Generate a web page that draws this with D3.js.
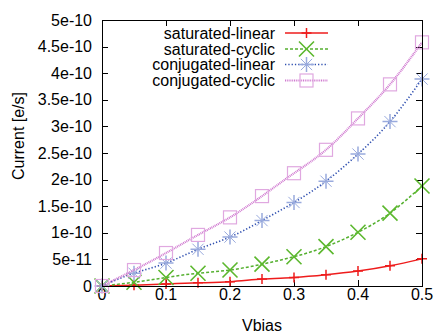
<!DOCTYPE html>
<html>
<head>
<meta charset="utf-8">
<script src="https://cdn.jsdelivr.net/npm/d3@7"></script>
<style>
body { margin: 0; background: #fff; }
text { font-family: "Liberation Sans", Arial, sans-serif; font-size: 16px; fill: #000; }
</style>
</head>
<body>
<div id="canvas"></div>
<script>
"use strict";

let svgWidth = 435;
let svgHeight = 333;

let margin = { top: 20, right: 13, bottom: 47, left: 102 };

// ---- data ----
let vbias = [0, 0.05, 0.1, 0.15, 0.2, 0.25, 0.3, 0.35, 0.4, 0.45, 0.5];
let saturatedLinear = [0, 1.5e-12, 3.8e-12, 6e-12, 8e-12, 1.3e-11, 1.6e-11, 2.1e-11, 2.8e-11, 3.8e-11, 5.1e-11];
let saturatedCyclic = [0, 7e-12, 1.6e-11, 2.4e-11, 3.0e-11, 4.1e-11, 5.5e-11, 7.4e-11, 1.01e-10, 1.37e-10, 1.88e-10];
let conjugatedLinear = [0, 2.4e-11, 4.3e-11, 6.9e-11, 9.2e-11, 1.23e-10, 1.57e-10, 1.97e-10, 2.48e-10, 3.09e-10, 3.89e-10];
let conjugatedCyclic = [0, 3.0e-11, 6.2e-11, 9.6e-11, 1.29e-10, 1.69e-10, 2.12e-10, 2.56e-10, 3.15e-10, 3.79e-10, 4.58e-10];
let seriesNames = ["saturated-linear", "saturated-cyclic", "conjugated-linear", "conjugated-cyclic"];
let xTicks = [0, 0.1, 0.2, 0.3, 0.4, 0.5];
let yTicks = [0, 5e-11, 1e-10, 1.5e-10, 2e-10, 2.5e-10, 3e-10, 3.5e-10, 4e-10, 4.5e-10, 5e-10];
let yTickLabels = ["0", "5e-11", "1e-10", "1.5e-10", "2e-10", "2.5e-10", "3e-10", "3.5e-10", "4e-10", "4.5e-10", "5e-10"];

let styles = [
    { line: "#ee1c1c", width: 1.5, dash: null, marker: "plus", mcolor: "#ee1c1c", msize: 5 },
    { line: "#55b030", width: 1.5, dash: "3,2", marker: "cross", mcolor: "#5cb82e", msize: 7.5 },
    { line: "#3050b0", width: 1.6, dash: "1.3,2", marker: "star", mcolor: "#99aadd", msize: 7.5 },
    { line: "#d07ad0", width: 2.2, dash: "1,0.8", marker: "square", mcolor: "#e0a8e0", msize: 6.5 }
];

let seriesValues = [saturatedLinear, saturatedCyclic, conjugatedLinear, conjugatedCyclic];

let svg = d3.select("#canvas")
    .append("svg")
    .attr("width", svgWidth)
    .attr("height", svgHeight);

let xScale = d3.scaleLinear()
    .domain([0, 0.5])
    .range([margin.left, svgWidth - margin.right]);

let yScale = d3.scaleLinear()
    .domain([0, 5e-10])
    .range([svgHeight - margin.bottom, margin.top]);

let x0 = xScale.range()[0], x1 = xScale.range()[1];
let y0 = yScale.range()[0], y1 = yScale.range()[1];
let tickLen = 6;

/* ---------------- TICKS (inward, mirrored) ---------------- */
let tickG = svg.append("g").attr("stroke", "#000").attr("stroke-width", 1);

yTicks.forEach(function (v, i) {
    let y = Math.round(yScale(v)) + 0.5;
    tickG.append("line").attr("x1", x0).attr("x2", x0 + tickLen).attr("y1", y).attr("y2", y);
    tickG.append("line").attr("x1", x1).attr("x2", x1 - tickLen).attr("y1", y).attr("y2", y);
    svg.append("text")
        .attr("x", x0 - 10)
        .attr("y", yScale(v) + 5.5)
        .attr("text-anchor", "end")
        .text(yTickLabels[i]);
});

xTicks.forEach(function (v) {
    let x = Math.round(xScale(v)) + 0.5;
    tickG.append("line").attr("x1", x).attr("x2", x).attr("y1", y0).attr("y2", y0 - tickLen);
    tickG.append("line").attr("x1", x).attr("x2", x).attr("y1", y1).attr("y2", y1 + tickLen);
    svg.append("text")
        .attr("x", xScale(v))
        .attr("y", y0 + 14)
        .attr("text-anchor", "middle")
        .text(v === 0 ? "0" : String(v));
});

/* ---------------- AXIS LABELS ---------------- */
svg.append("text")
    .attr("x", (x0 + x1) / 2)
    .attr("y", 331)
    .attr("text-anchor", "middle")
    .text("Vbias");

svg.append("text")
    .attr("transform", "translate(24,136) rotate(-90)")
    .attr("text-anchor", "middle")
    .text("Current [e/s]");

/* ---------------- MARKERS ---------------- */
function drawMarker(g, type, cx, cy, s, color) {
    if (type === "plus" || type === "star") {
        g.append("path")
            .attr("d", "M" + (cx - s) + "," + cy + "H" + (cx + s) + "M" + cx + "," + (cy - s) + "V" + (cy + s))
            .attr("stroke", color).attr("stroke-width", 1.5).attr("fill", "none");
    }
    if (type === "cross" || type === "star") {
        let k = type === "star" ? s * 0.75 : s;
        g.append("path")
            .attr("d", "M" + (cx - k) + "," + (cy - k) + "L" + (cx + k) + "," + (cy + k) +
                "M" + (cx - k) + "," + (cy + k) + "L" + (cx + k) + "," + (cy - k))
            .attr("stroke", color).attr("stroke-width", type === "star" ? 1 : 1.6).attr("fill", "none");
    }
    if (type === "square") {
        g.append("rect")
            .attr("x", cx - s).attr("y", cy - s)
            .attr("width", 2 * s).attr("height", 2 * s)
            .attr("stroke", color).attr("stroke-width", 1.2).attr("fill", "none");
    }
}

/* ---------------- SERIES ---------------- */
let line = d3.line()
    .x(d => xScale(d[0]))
    .y(d => yScale(d[1]))
    .curve(d3.curveNatural);

seriesValues.forEach(function (vals, si) {
    let st = styles[si];
    let pts = vbias.map((v, i) => [v, vals[i]]);
    let g = svg.append("g");

    g.append("path")
        .datum(pts)
        .attr("d", line)
        .attr("fill", "none")
        .attr("stroke", st.line)
        .attr("stroke-width", st.width)
        .attr("stroke-dasharray", st.dash);

    pts.forEach(function (p) {
        drawMarker(g, st.marker, xScale(p[0]), yScale(p[1]), st.msize, st.mcolor);
    });
});

/* ---------------- LEGEND ---------------- */
let legendRowY = [33, 49, 64.5, 80.5];

seriesNames.forEach(function (name, i) {
    let st = styles[i];
    let y = legendRowY[i];
    svg.append("text")
        .attr("x", 275)
        .attr("y", y + 5.5)
        .attr("text-anchor", "end")
        .text(name);
    svg.append("line")
        .attr("x1", 285).attr("x2", 328)
        .attr("y1", y).attr("y2", y)
        .attr("stroke", st.line)
        .attr("stroke-width", st.width)
        .attr("stroke-dasharray", st.dash);
    drawMarker(svg.append("g"), st.marker, 306.5, y, st.msize, st.mcolor);
});

/* ---------------- FRAME ---------------- */
svg.append("rect")
    .attr("x", Math.round(x0) + 0.5)
    .attr("y", Math.round(y1) + 0.5)
    .attr("width", Math.round(x1) - Math.round(x0))
    .attr("height", Math.round(y0) - Math.round(y1))
    .attr("fill", "none")
    .attr("stroke", "#000")
    .attr("stroke-width", 1);
</script>
</body>
</html>
